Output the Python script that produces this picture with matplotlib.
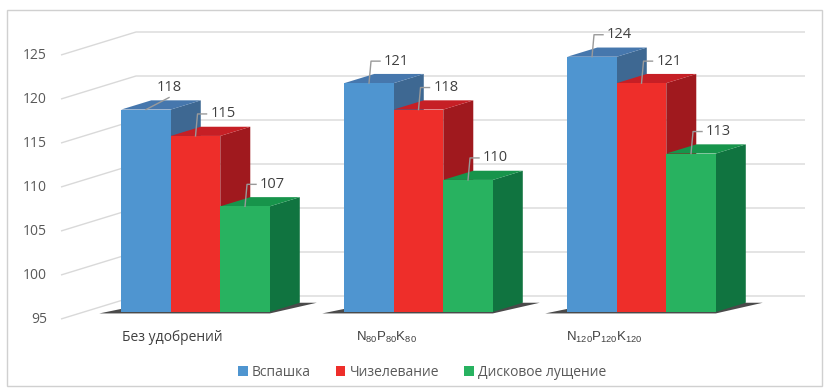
import matplotlib
matplotlib.use('Agg')
import matplotlib.pyplot as plt
from matplotlib.patches import Polygon, Rectangle

plt.rcParams['font.family'] = ['Open Sans', 'DejaVu Sans']
plt.rcParams['mathtext.fontset'] = 'custom'
plt.rcParams['mathtext.rm'] = 'Liberation Sans'
plt.rcParams['mathtext.it'] = 'Liberation Sans:italic'

# ---------------- data ----------------
categories = ['Без удобрений',
              r'N$_{\mathrm{80}}$P$_{\mathrm{80}}$K$_{\mathrm{80}}$',
              r'N$_{\mathrm{120}}$P$_{\mathrm{120}}$K$_{\mathrm{120}}$']
series_names = ['Вспашка', 'Чизелевание', 'Дисковое лущение']
vspashka = [118, 121, 124]
chizelevanie = [115, 118, 121]
diskovoe = [107, 110, 113]
y_ticks = [95, 100, 105, 110, 115, 120, 125]

series = [vspashka, chizelevanie, diskovoe]
front_colors = ['#4F95D0', '#EE2E2A', '#28B260']
top_colors = ['#4677AD', '#C61F25', '#17944B']
side_colors = ['#3E6892', '#A0191E', '#107440']

# ---------------- layout ----------------
W, H = 826, 388
fig = plt.figure(figsize=(W / 100, H / 100), dpi=100)
ax = fig.add_axes([0, 0, 1, 1])
PX_PER_CAT = 223.0
PX_PER_UNIT = 8.8
X0_PX = 172.5
YBASE_PX = 319.0
base = y_ticks[0]
ax.set_xlim(-X0_PX / PX_PER_CAT, (W - X0_PX) / PX_PER_CAT)
ax.set_ylim(base - (H - YBASE_PX) / PX_PER_UNIT, base + YBASE_PX / PX_PER_UNIT)
ax.axis('off')


def pxx(p):
    return p / PX_PER_CAT


def pxy(p):
    return p / PX_PER_UNIT


DX = pxx(75)
DV = pxy(23)


def proj(x, v, z):
    return (x + DX * z, v + DV * z)


# gridlines: left wall + back wall
xmin, xmax = -0.5, 2.5
for t in y_ticks:
    pts = [proj(xmin, t, 0), proj(xmin, t, 1), proj(xmax, t, 1)]
    ax.plot([p[0] for p in pts], [p[1] for p in pts], color='#D9D9D9',
            lw=1.0, zorder=1, solid_capstyle='butt')
    ax.annotate(str(t), xy=proj(xmin, t, 0), xytext=(-10, 0),
                textcoords='offset points', ha='right', va='center',
                fontsize=10, color='#595959')

bw = 0.222
zf, zb = 0.307, 0.707
text_col = '#404040'
lead_col = '#9A9A9A'

for i in range(len(categories)):
    xL = i - 1.5 * bw
    xR = i + 1.5 * bw
    # floor shadow
    shadow = [proj(xL - pxx(22), base - pxy(1.5), zf),
              proj(xR, base - pxy(1.5), zf),
              proj(xR + pxx(17), base, zb),
              proj(xL, base, zb)]
    ax.add_patch(Polygon(shadow, closed=True, facecolor='#2A2A2A',
                         edgecolor='none', alpha=0.85, zorder=2))
    for j, vals in enumerate(series):
        v = vals[i]
        x0 = xL + j * bw
        x1 = x0 + bw
        zo = 3 + i * 0.1 + j * 0.01
        side = [proj(x1, base, zf), proj(x1, base, zb), proj(x1, v, zb), proj(x1, v, zf)]
        top = [proj(x0, v, zf), proj(x1, v, zf), proj(x1, v, zb), proj(x0, v, zb)]
        front = [proj(x0, base, zf), proj(x1, base, zf), proj(x1, v, zf), proj(x0, v, zf)]
        ax.add_patch(Polygon(side, closed=True, facecolor=side_colors[j], edgecolor='none', zorder=zo))
        ax.add_patch(Polygon(top, closed=True, facecolor=top_colors[j], edgecolor='none', zorder=zo))
        ax.add_patch(Polygon(front, closed=True, facecolor=front_colors[j], edgecolor='none', zorder=zo))

        # data label with leader line
        cx, cy = proj((x0 + x1) / 2, v, zf)
        if i == 0 and j == 0:
            p2 = (cx + pxx(23), cy + pxy(12))
            ax.plot([cx, p2[0]], [cy, p2[1]], color=lead_col, lw=1.0, zorder=10)
            ax.text(p2[0], p2[1] + pxy(10), str(v), ha='center', va='center',
                    fontsize=10.5, color=text_col, zorder=11)
        else:
            p2 = (cx + pxx(2), cy + pxy(22))
            p3 = (p2[0] + pxx(9), p2[1])
            ax.plot([cx, p2[0], p3[0]], [cy, p2[1], p3[1]], color=lead_col, lw=1.0, zorder=10)
            ax.text(p3[0] + pxx(4), p3[1], str(v), ha='left', va='center',
                    fontsize=10.5, color=text_col, zorder=11)

# category labels
cat_dx = [0.0, -0.04, -0.065]
for i, c in enumerate(categories):
    fam = ['Open Sans', 'DejaVu Sans'] if i == 0 else ['Liberation Sans', 'DejaVu Sans']
    ax.text(i + cat_dx[i], base - pxy(18), c, ha='center', va='center',
            fontsize=10 if i == 0 else 9.5, color='#404040', family=fam)

# legend
handles = [Rectangle((0, 0), 1, 1, facecolor=c, edgecolor='none') for c in front_colors]
fig.legend(handles, series_names, loc='center', bbox_to_anchor=(422 / W, 1 - 372 / H),
           ncol=3, frameon=False, handlelength=0.7, handleheight=0.7,
           handletextpad=0.3, columnspacing=1.8, fontsize=10, labelcolor='#595959')

# outer frame
fig.add_artist(Rectangle((7 / W, 2 / H), 815 / W, 376 / H, transform=fig.transFigure,
                         facecolor='none', edgecolor='#D0D0D0', lw=1.0))

fig.savefig('out.png', dpi=100)
